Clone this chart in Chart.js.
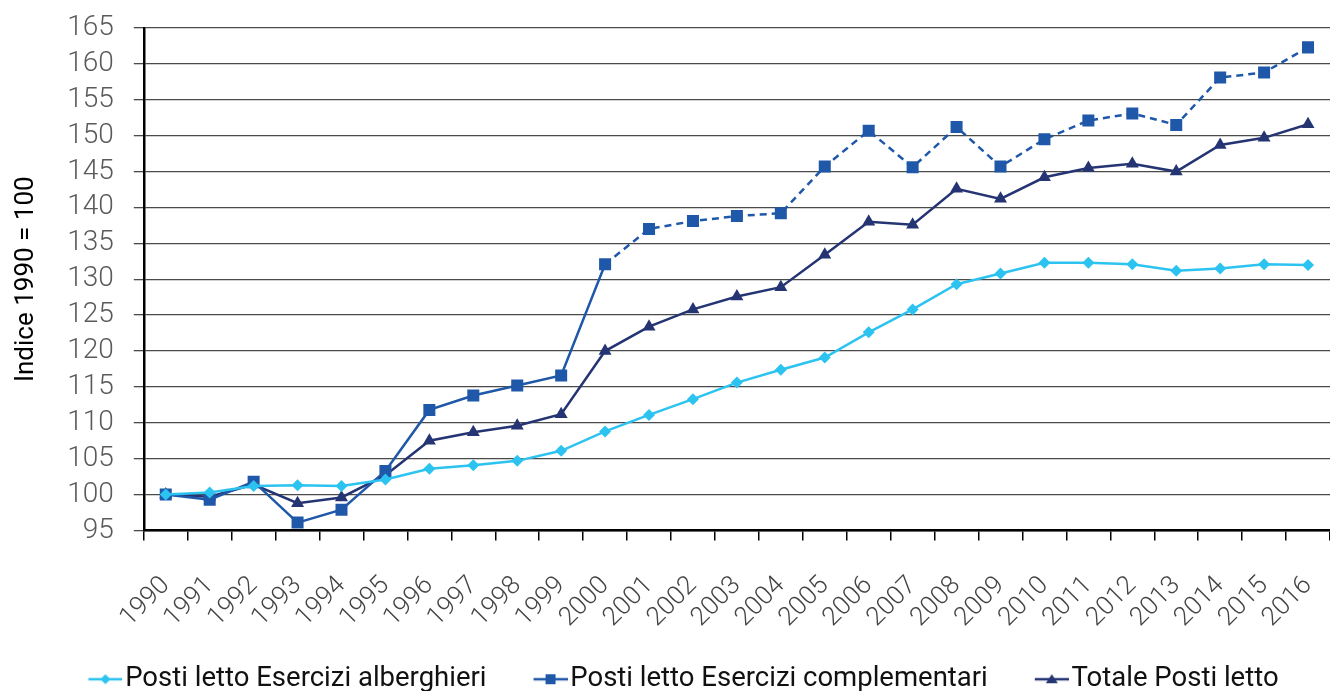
<!DOCTYPE html>
<html>
<head>
<meta charset="utf-8">
<script src="https://cdn.jsdelivr.net/npm/chart.js@4.4.0/dist/chart.umd.min.js"></script>
<style>
  html, body { margin: 0; padding: 0; background: #fff; }
  #wrap { width: 1330px; height: 691px; }
</style>
</head>
<body>
<div id="wrap"><canvas id="chart"></canvas></div>
<script>
const years = ['1990','1991','1992','1993','1994','1995','1996','1997','1998','1999','2000','2001','2002','2003','2004','2005','2006','2007','2008','2009','2010','2011','2012','2013','2014','2015','2016'];

const alberghieri = [100, 100.3, 101.2, 101.3, 101.2, 102.1, 103.6, 104.1, 104.7, 106.1, 108.8, 111.1, 113.3, 115.6, 117.4, 119.1, 122.6, 125.8, 129.3, 130.8, 132.3, 132.3, 132.1, 131.2, 131.5, 132.1, 132.0];
const complementari = [100, 99.3, 101.8, 96.1, 97.9, 103.3, 111.8, 113.8, 115.2, 116.6, 132.1, 137.0, 138.1, 138.8, 139.2, 145.7, 150.7, 145.6, 151.2, 145.7, 149.5, 152.1, 153.1, 151.5, 158.1, 158.8, 162.3];
const totale = [100, 99.7, 101.4, 98.8, 99.6, 102.7, 107.5, 108.7, 109.6, 111.2, 120.0, 123.4, 125.8, 127.6, 128.9, 133.4, 138.0, 137.6, 142.6, 141.2, 144.2, 145.5, 146.1, 145.0, 148.7, 149.7, 151.6];

const yTicks = [95, 100, 105, 110, 115, 120, 125, 130, 135, 140, 145, 150, 155, 160, 165];

const colAlb = '#2cc3f0';
const colCom = '#1f58a8';
const colTot = '#253473';

const symBox = 60; // legend box width, the empty left part gives the gap between items

// legend symbol: line with the marker in the middle, drawn at the right end of a wider canvas
function legendSymbol(color, style) {
    const c = document.createElement('canvas');
    c.width = symBox + 22; c.height = 18;
    const g = c.getContext('2d');
    const x0 = c.width - 34, mx = x0 + 17;
    g.strokeStyle = color;
    g.fillStyle = color;
    g.lineWidth = 2.5;
    g.beginPath(); g.moveTo(x0, 9); g.lineTo(c.width, 9); g.stroke();
    g.beginPath();
    if (style === 'rectRot') {
        g.moveTo(mx, 4); g.lineTo(mx + 5, 9); g.lineTo(mx, 14); g.lineTo(mx - 5, 9);
    } else if (style === 'rect') {
        g.rect(mx - 5, 4, 10, 10);
    } else {
        g.moveTo(mx, 4); g.lineTo(mx + 6, 13); g.lineTo(mx - 6, 13);
    }
    g.closePath(); g.fill();
    return c;
}

const ctx = document.getElementById('chart').getContext('2d');
new Chart(ctx, {
    type: 'line',
    data: {
        labels: years,
        datasets: [{
            label: 'Posti letto Esercizi alberghieri',
            data: alberghieri,
            borderColor: colAlb,
            backgroundColor: colAlb,
            borderWidth: 2.5,
            pointStyle: 'rectRot',
            pointRadius: 6,
            pointBorderWidth: 0,
            tension: 0,
            legendSym: legendSymbol(colAlb, 'rectRot')
        }, {
            label: 'Posti letto Esercizi complementari',
            data: complementari,
            borderColor: colCom,
            backgroundColor: colCom,
            borderWidth: 2.5,
            pointStyle: 'rect',
            pointRadius: 8.5,
            pointBorderWidth: 0,
            tension: 0,
            segment: {
                borderDash: c => c.p0DataIndex >= 10 ? [7, 5] : undefined
            },
            legendSym: legendSymbol(colCom, 'rect')
        }, {
            label: 'Totale Posti letto',
            data: totale,
            borderColor: colTot,
            backgroundColor: colTot,
            borderWidth: 2.5,
            pointStyle: 'triangle',
            pointRadius: 7.5,
            pointBorderWidth: 0,
            tension: 0,
            legendSym: legendSymbol(colTot, 'triangle')
        }]
    },
    options: {
        responsive: true,
        maintainAspectRatio: false,
        animation: false,
        layout: { autoPadding: false, padding: { top: 0, right: 0, left: 0, bottom: -12 } },
        plugins: {
            tooltip: { enabled: false },
            legend: {
                position: 'bottom',
                labels: {
                    usePointStyle: true,
                    pointStyleWidth: symBox,
                    padding: 10,
                    color: '#111',
                    font: { family: 'Roboto', size: 27.5 },
                    generateLabels: chart => chart.data.datasets.map((ds, i) => ({
                        text: ds.label,
                        datasetIndex: i,
                        pointStyle: ds.legendSym,
                        fillStyle: ds.borderColor,
                        strokeStyle: ds.borderColor,
                        lineWidth: 0,
                        fontColor: '#111'
                    }))
                }
            }
        },
        scales: {
            x: {
                offset: true,
                afterFit: axis => { axis.paddingRight = 0; axis.height = 125; },
                grid: { offset: true, drawOnChartArea: false, tickLength: 10, color: '#000', lineWidth: 1.5 },
                border: { color: '#000', width: 2.5 },
                ticks: {
                    minRotation: 45, maxRotation: 45, autoSkip: false,
                    color: '#444', padding: 30,
                    font: { family: 'Roboto', size: 26, weight: 300 }
                }
            },
            y: {
                min: 95, max: 165,
                afterBuildTicks: axis => { axis.ticks = yTicks.map(v => ({ value: v })); },
                afterFit: axis => { axis.paddingTop = 28; axis.paddingBottom = 10; },
                grid: { color: '#4a4a4a', lineWidth: 1.3, tickLength: 10 },
                border: { color: '#000', width: 2.5 },
                ticks: {
                    autoSkip: false,
                    color: '#5a5a5a', padding: 20,
                    font: { family: 'Roboto', size: 28, weight: 300 }
                },
                title: {
                    display: true, text: 'Indice 1990 = 100',
                    color: '#000', padding: { top: 11, bottom: 5 },
                    font: { family: 'Roboto', size: 26 }
                }
            }
        }
    }
});
</script>
</body>
</html>
